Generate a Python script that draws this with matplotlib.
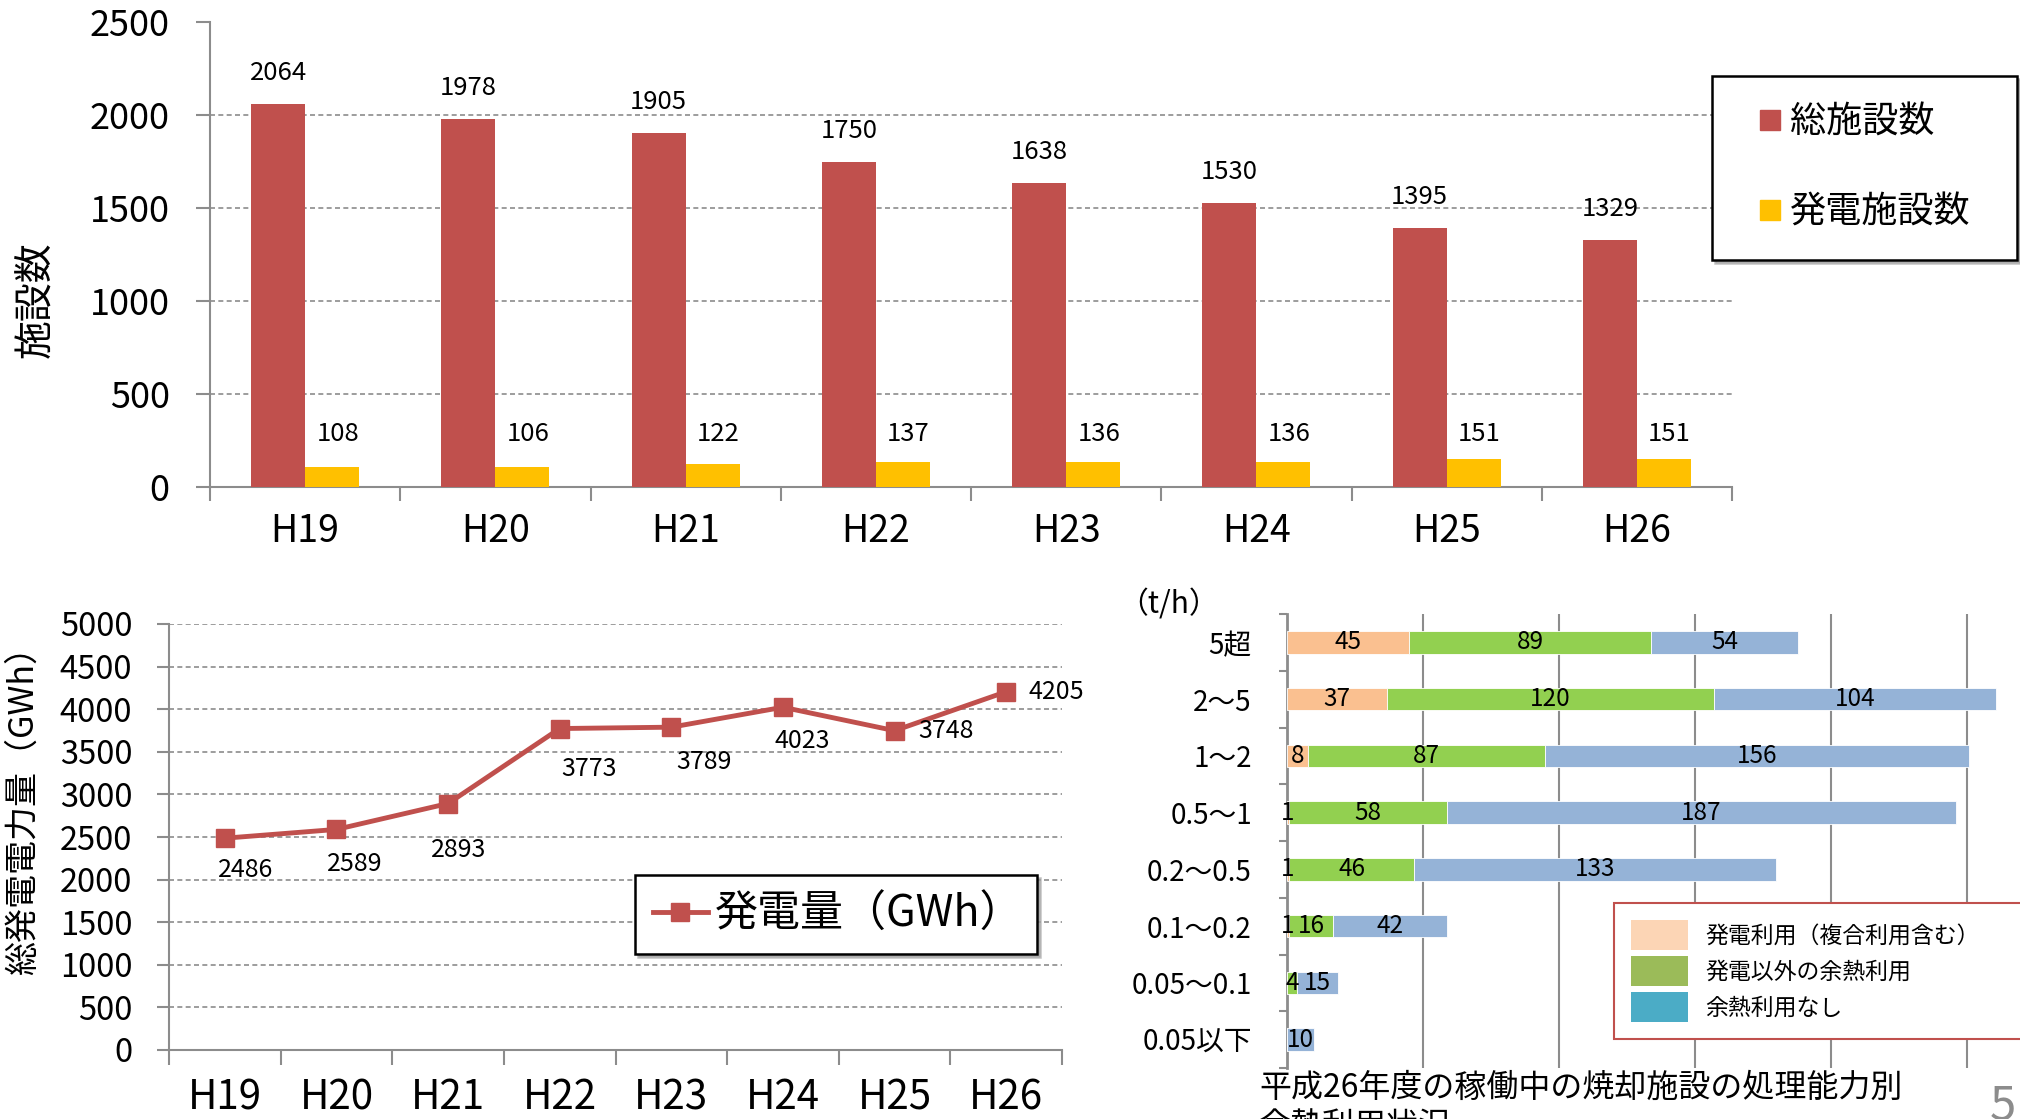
import matplotlib
matplotlib.use('Agg')
import matplotlib.pyplot as plt
import matplotlib.transforms as mtransforms
import numpy as np
from matplotlib.lines import Line2D
from matplotlib.patches import Patch

plt.rcParams['font.family'] = ['Noto Sans CJK JP', 'DejaVu Sans']

# ---------------- data ----------------
years = ['H19', 'H20', 'H21', 'H22', 'H23', 'H24', 'H25', 'H26']
total_facilities = [2064, 1978, 1905, 1750, 1638, 1530, 1395, 1329]
power_facilities = [108, 106, 122, 137, 136, 136, 151, 151]
generation_gwh = [2486, 2589, 2893, 3773, 3789, 4023, 3748, 4205]

capacity_classes = ['5超', '2～5', '1～2', '0.5～1', '0.2～0.5', '0.1～0.2', '0.05～0.1', '0.05以下']
power_use = [45, 37, 8, 1, 1, 1, 0, 0]
other_heat_use = [89, 120, 87, 58, 46, 16, 4, 0]
no_heat_use = [54, 104, 156, 187, 133, 42, 15, 10]

# label offsets (pixels) for the line chart data labels
line_label_offsets = [(21, -32), (18, -35), (11, -46), (29, -40), (33, -35), (19, -34), (51, 0), (50, 0)]

# ---------------- styling ----------------
RED = '#C0504D'
YEL = '#FFC000'
GRID = '#8c8c8c'
BAR_COLS = ['#FAC090', '#92D050', '#95B3D7']
LEG_COLS = ['#FCD5B5', '#9BBB59', '#4BACC6']

W, H = 2020, 1119
fig = plt.figure(figsize=(W / 100, H / 100), dpi=100)
fig.patch.set_facecolor('white')


def fx(px):
    return px / W


def fy(py):
    return 1 - py / H


def axes_px(l, t, r, b):
    return fig.add_axes([l / W, 1 - b / H, (r - l) / W, (b - t) / H])


PT = 0.72  # points per pixel at 100 dpi

# ================= top chart =================
ax1 = axes_px(210, 22.5, 1732, 487)
x = np.arange(len(years))
bw = 0.284
ax1.bar(x - bw / 2, total_facilities, bw, color=RED, zorder=3)
ax1.bar(x + bw / 2, power_facilities, bw, color=YEL, zorder=3)
ax1.set_xlim(-0.5, len(years) - 0.5)
ax1.set_ylim(0, 2500)
ax1.set_yticks(np.arange(0, 2501, 500))
ax1.yaxis.grid(True, linestyle=(0, (3, 2)), color=GRID, linewidth=1.2)
ax1.set_axisbelow(True)
for s in ['top', 'right']:
    ax1.spines[s].set_visible(False)
for s in ['left', 'bottom']:
    ax1.spines[s].set_color(GRID)
    ax1.spines[s].set_linewidth(1.5)
ax1.set_xticks(x)
ax1.set_xticklabels(years)
ax1.set_xticks(np.arange(-0.5, len(years), 1), minor=True)
ax1.tick_params(axis='x', which='major', length=0, pad=18, labelsize=27)
ax1.tick_params(axis='x', which='minor', length=10, color=GRID, width=1.5)
ax1.tick_params(axis='y', length=10, color=GRID, width=1.5, pad=19, labelsize=26)

for xi, v in zip(x, total_facilities):
    ax1.annotate(str(v), (xi - bw / 2, v), xytext=(0, 31 * PT), textcoords='offset points',
                 ha='center', va='center', fontsize=18.5)
blend = mtransforms.blended_transform_factory(ax1.transData, ax1.transAxes)
for xi, v in zip(x, power_facilities):
    ax1.text(xi + bw / 2 + 0.03, 0.114, str(v), transform=blend, ha='center', va='center', fontsize=18.5)

fig.text(fx(36), fy(300), '施設数', rotation=90, ha='center', va='center', fontsize=28)

h_top = [Line2D([], [], marker='s', linestyle='none', markersize=15, markerfacecolor=RED, markeredgecolor=RED),
         Line2D([], [], marker='s', linestyle='none', markersize=15, markerfacecolor=YEL, markeredgecolor=YEL)]
leg1 = fig.legend(h_top, ['総施設数', '発電施設数'], loc='upper left',
                  bbox_to_anchor=(fx(1712), fy(76) - 0.2, fx(2017) - fx(1712), 0.2),
                  mode='expand', borderaxespad=0, fontsize=26, fancybox=False, edgecolor='black',
                  framealpha=1, borderpad=0.8, labelspacing=1.5, handlelength=1.6, handletextpad=-0.25,
                  shadow={'color': '0.6', 'alpha': 0.6})
leg1.get_frame().set_linewidth(1.8)

# ================= bottom-left line chart =================
ax2 = axes_px(169, 624, 1062, 1050)
line, = ax2.plot(x, generation_gwh, color=RED, lw=3.5, marker='s', markersize=13, zorder=3)
ax2.set_xlim(-0.5, len(years) - 0.5)
ax2.set_ylim(0, 5000)
ax2.set_yticks(np.arange(0, 5001, 500))
ax2.yaxis.grid(True, linestyle=(0, (3, 2)), color=GRID, linewidth=1.2)
ax2.set_axisbelow(True)
for s in ['top', 'right']:
    ax2.spines[s].set_visible(False)
for s in ['left', 'bottom']:
    ax2.spines[s].set_color(GRID)
    ax2.spines[s].set_linewidth(1.5)
ax2.set_xticks(x)
ax2.set_xticklabels(years)
ax2.set_xticks(np.arange(-0.5, len(years), 1), minor=True)
ax2.tick_params(axis='x', which='major', length=0, pad=19.5, labelsize=29)
ax2.tick_params(axis='x', which='minor', length=11, color=GRID, width=1.5)
ax2.tick_params(axis='y', length=8.5, color=GRID, width=1.5, pad=18, labelsize=23.5)

for xi, v, (ox, oy) in zip(x, generation_gwh, line_label_offsets):
    ax2.annotate(str(v), (xi, v), xytext=(ox * PT, oy * PT), textcoords='offset points',
                 ha='center', va='center', fontsize=18)

fig.text(fx(23), fy(802), '総発電電力量（GWh）', rotation=90, ha='center', va='center', fontsize=24.5)

leg2 = fig.legend([line], ['発電量（GWh）'], loc='upper left',
                  bbox_to_anchor=(fx(635), fy(875) - 0.2, fx(1037) - fx(635), 0.2),
                  mode='expand', borderaxespad=0, fontsize=31, fancybox=False, edgecolor='black',
                  framealpha=1, borderpad=0.41, handlelength=1.28, handletextpad=0.16,
                  shadow={'color': '0.6', 'alpha': 0.6})
leg2.get_frame().set_linewidth(1.8)

# ================= bottom-right stacked bar =================
ppu = 2.72
ax3 = axes_px(1286.5, 614, 1286.5 + 270 * ppu, 1068)
yy = np.arange(len(capacity_classes))
left = np.zeros(len(capacity_classes))
for vals, col in zip([power_use, other_heat_use, no_heat_use], BAR_COLS):
    vals = np.array(vals, dtype=float)
    ax3.barh(yy, vals, height=0.4, left=left, color=col, edgecolor='white', linewidth=0.6, zorder=3)
    for yi, v, l in zip(yy, vals, left):
        if v > 0:
            ax3.text(l + v / 2, yi, str(int(v)), ha='center', va='center', fontsize=17.5, zorder=4)
    left = left + vals
ax3.set_xlim(0, 270)
ax3.set_ylim(len(capacity_classes) - 0.5, -0.5)
ax3.set_xticks([50, 100, 150, 200, 250])
ax3.xaxis.grid(True, color=GRID, linewidth=1.5)
ax3.set_axisbelow(True)
ax3.tick_params(axis='x', length=0, labelbottom=False)
for s in ['top', 'right', 'bottom']:
    ax3.spines[s].set_visible(False)
ax3.spines['left'].set_color(GRID)
ax3.spines['left'].set_linewidth(2)
ax3.set_yticks(yy)
ax3.set_yticklabels(capacity_classes)
ax3.set_yticks(np.arange(-0.5, len(capacity_classes), 1), minor=True)
ax3.tick_params(axis='y', which='major', length=0, pad=25, labelsize=20)
ax3.tick_params(axis='y', which='minor', length=6, color=GRID, width=1.5)

fig.text(fx(1118), fy(605), '（t/h）', ha='left', va='center', fontsize=21.5)

h_br = [Patch(facecolor=c, edgecolor='none') for c in LEG_COLS]
leg3 = fig.legend(h_br, ['発電利用（複合利用含む）', '発電以外の余熱利用', '余熱利用なし'], loc='upper left',
                  bbox_to_anchor=(fx(1614), fy(903) - 0.2, fx(2040) - fx(1614), 0.2),
                  mode='expand', borderaxespad=0, fontsize=16.5, fancybox=False, edgecolor=RED,
                  framealpha=1, borderpad=0.74, labelspacing=0.26, handlelength=2.49, handleheight=1.64,
                  handletextpad=0.75)
leg3.get_frame().set_linewidth(1.5)

fig.text(fx(1259), fy(1097), '平成26年度の稼働中の焼却施設の処理能力別',
         ha='left', va='baseline', fontsize=23)
fig.text(fx(1259), fy(1135), '余熱利用状況',
         ha='left', va='baseline', fontsize=23)
fig.text(fx(1990), fy(1120), '5', ha='left', va='baseline', fontsize=34, color='#8c8c8c')

fig.savefig('out.png', dpi=100, facecolor='white')
